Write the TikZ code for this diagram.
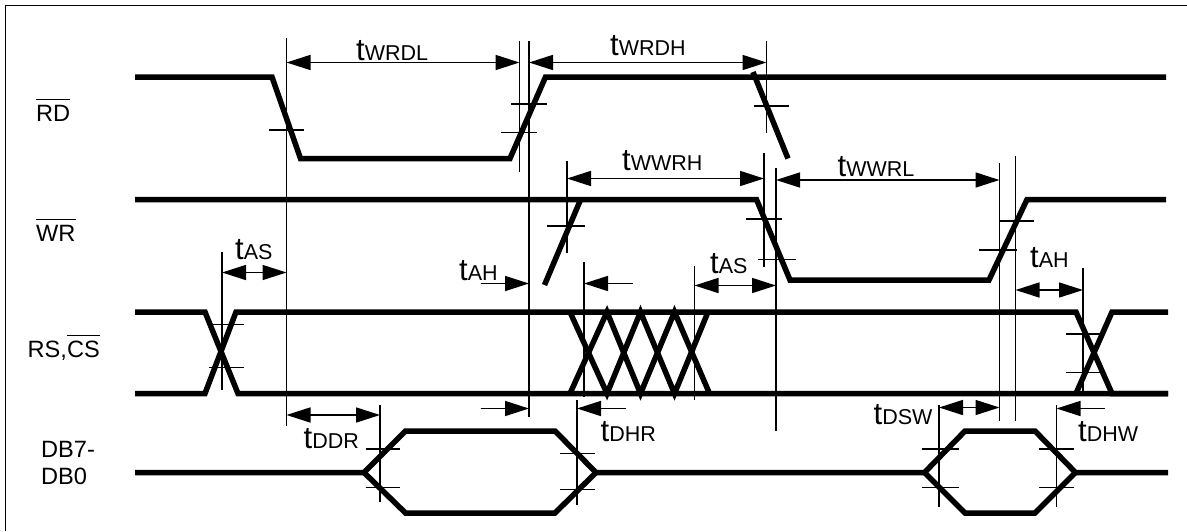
\documentclass[tikz,border=0pt]{standalone}
\usepackage{fontspec}
\setmainfont{Liberation Sans}
\usetikzlibrary{arrows.meta}
\newcommand{\timing}[1]{{\fontsize{31}{31}\selectfont t}{\fontsize{21.5}{21.5}\selectfont #1}}
\newcommand{\topbar}[1]{$\overline{\mbox{\rule{0pt}{21pt}#1}}$}
\tikzset{
  wave/.style={line width=5.5pt, miter limit=10},
  guide/.style={line width=1.8pt},
  span/.style={line width=1.6pt, {Triangle[length=24pt,width=15pt]}-{Triangle[length=24pt,width=15pt]}},
  spanin/.style={line width=1.6pt, -{Triangle[length=24pt,width=15pt]}},
  sigtext/.style={anchor=base west, inner sep=0pt, font=\fontsize{23.6}{27}\selectfont},
  timetext/.style={anchor=base west, inner sep=0pt}
}
\begin{document}
\begin{tikzpicture}[x=1pt, y=-1pt]
        \useasboundingbox (0,0) rectangle (1187,531);
        \draw [line width=1.5pt] (5.5,531) -- (5.5,5.5) -- (1187,5.5);

        \node [sigtext] (rdname) at (36,121.7) {\topbar{RD}};
        \node [sigtext] (wrname) at (36,241.7) {\topbar{WR}};
        \node [sigtext] (rsname) at (27.5,357.3) {RS,\topbar{CS}};
        \node [sigtext] (dbhigh) at (41,457.7) {DB7-};
        \node [sigtext] (dblow) at (41,484) {DB0};

        \draw [wave] (135,77) -- (272,77) -- (300.5,158.5) -- (510,158.5) -- (545.5,77) -- (1166,77);
        \draw [wave] (753,72) -- (788,158.5);

        \draw [wave] (135,199.5) -- (756.5,199.5) -- (790,280) -- (989,280) -- (1027,199.5) -- (1166,199.5);
        \draw [wave] (580,201) -- (544.5,285);

        \draw [wave] (135,312) -- (205,312) -- (238,393.5) -- (1168,393.5);
        \draw [wave] (135,393.5) -- (205,393.5) -- (236,312) -- (1076,312) -- (1112,393.5) -- (1168,393.5);
        \draw [wave] (1076,393.5) -- (1112,312) -- (1168,312);
        \draw [wave] (570,393.5) -- (607,312) -- (640.5,393.5) -- (674.5,312) -- (709.5,393.5);
        \draw [wave] (570,312) -- (607,393.5) -- (640.5,312) -- (674.5,393.5) -- (708,312);

        \draw [wave] (135,472.5) -- (364,472.5) -- (405.5,431) -- (555,431) -- (596,472.5) -- (924.5,472.5) -- (965,431) -- (1035,431) -- (1075.5,472.5) -- (1168,472.5);
        \draw [wave] (364,472.5) -- (405.5,513) -- (555,513) -- (596,472.5);
        \draw [wave] (924.5,472.5) -- (965,513) -- (1035,513) -- (1075.5,472.5);

        \draw [guide] (286.5,38) -- (286.5,426);
        \draw [guide] (519.5,41) -- (519.5,172);
        \draw [guide] (529,41) -- (529,417);
        \draw [guide] (567,161) -- (567,253);
        \draw [guide] (584,262) -- (584,397);
        \draw [guide] (577,400) -- (577,505);
        \draw [guide] (766.5,41) -- (766.5,133);
        \draw [guide] (764,153) -- (764,267);
        \draw [guide] (776,168) -- (776,431);
        \draw [guide] (694.5,266) -- (694.5,400);
        \draw [guide] (999.5,163) -- (999.5,421);
        \draw [guide] (1015.5,156) -- (1015.5,421);
        \draw [guide] (1083,268) -- (1083,392);
        \draw [guide] (222,252) -- (222,390);
        \draw [guide] (380,405) -- (380,502);
        \draw [guide] (939,405) -- (939,507);
        \draw [guide] (1056.5,405) -- (1056.5,507);

        \draw [guide] (269,130) -- (304,130);
        \draw [guide] (511,104) -- (546.5,104);
        \draw [guide] (501,132.5) -- (537,132.5);
        \draw [guide] (753.5,106) -- (789,106);
        \draw [guide] (547,226) -- (585,226);
        \draw [guide] (746,219) -- (781.5,219);
        \draw [guide] (758,259.5) -- (796,259.5);
        \draw [guide] (999.5,221) -- (1033.5,221);
        \draw [guide] (979,250) -- (1016.5,250);
        \draw [guide] (211.5,324.5) -- (244,324.5);
        \draw [guide] (209,367.5) -- (244,367.5);
        \draw [guide] (1066,334) -- (1100,334);
        \draw [guide] (1066,372.5) -- (1100,372.5);
        \draw [guide] (365.5,449) -- (400,449);
        \draw [guide] (365.5,487.5) -- (400,487.5);
        \draw [guide] (559.5,453.5) -- (595,453.5);
        \draw [guide] (559.5,489.5) -- (595,489.5);
        \draw [guide] (921.5,449) -- (958.5,449);
        \draw [guide] (921.5,487.5) -- (958.5,487.5);
        \draw [guide] (1039,449) -- (1073.5,449);
        \draw [guide] (1039,487.5) -- (1073.5,487.5);

        \draw [span] (286.5,62.5) -- (519.5,62.5);
        \draw [span] (529,62.5) -- (766.5,62.5);
        \draw [span] (567,178.5) -- (764,178.5);
        \draw [span] (776,180) -- (999.5,180);
        \draw [span] (222,272.5) -- (286.5,272.5);
        \draw [span] (694.5,285.5) -- (776,285.5);
        \draw [span] (1015.5,290) -- (1083,290);
        \draw [span] (286.5,415) -- (380,415);
        \draw [span] (939,407.5) -- (999.5,407.5);
        \draw [spanin] (480.5,283.5) -- (529,283.5);
        \draw [spanin] (632.5,283.5) -- (584,283.5);
        \draw [spanin] (480.5,408.5) -- (529,408.5);
        \draw [spanin] (626,408.5) -- (577,408.5);
        \draw [spanin] (1105,408.5) -- (1056.5,408.5);

        \node [timetext] (wrdl) at (356,60) {\timing{WRDL}};
        \node [timetext] (wrdh) at (610,55) {\timing{WRDH}};
        \node [timetext] (wwrh) at (622,170) {\timing{WWRH}};
        \node [timetext] (wwrl) at (837.5,176.5) {\timing{WWRL}};
        \node [timetext] (asleft) at (235,259) {\timing{AS}};
        \node [timetext] (ahmid) at (459,280) {\timing{AH}};
        \node [timetext] (asright) at (710,273) {\timing{AS}};
        \node [timetext] (ahright) at (1030,267.5) {\timing{AH}};
        \node [timetext] (ddr) at (303.5,448) {\timing{DDR}};
        \node [timetext] (dhr) at (600.5,441) {\timing{DHR}};
        \node [timetext] (dsw) at (873.5,424) {\timing{DSW}};
        \node [timetext] (dhw) at (1078,441) {\timing{DHW}};
      \end{tikzpicture}
\end{document}
